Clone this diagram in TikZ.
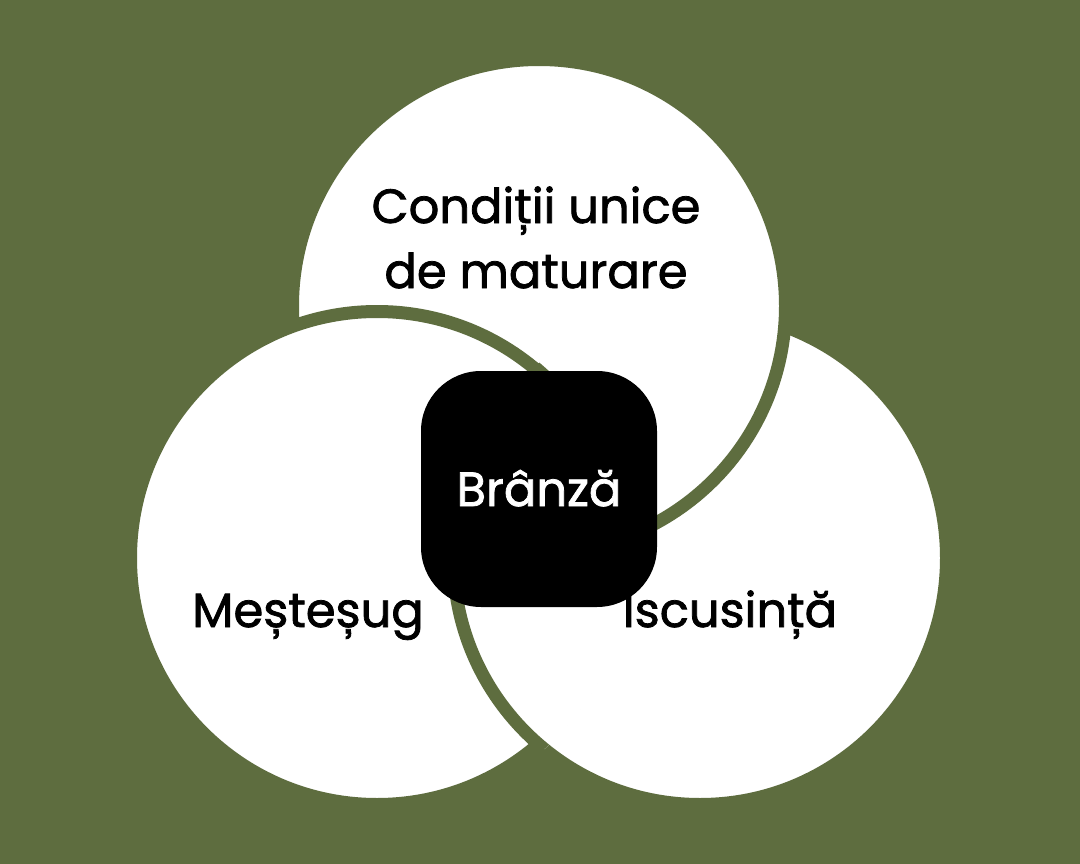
\documentclass[tikz,border=0pt]{standalone}
\usepackage{fontspec}
\setmainfont{Poppins}[FakeBold=1.6]
\definecolor{olive}{HTML}{5E6D3F}
\begin{document}
\begin{tikzpicture}[x=1pt,y=-1pt,
  circ/.style={circle, fill=white, draw=olive, line width=13pt, minimum size=493pt, inner sep=0pt, outer sep=0pt},
  circpath/.style={fill=white, draw=olive, line width=13pt},
  lbl/.style={font=\fontsize{48pt}{65pt}\selectfont, text=black, align=center, inner sep=0pt, anchor=base},
  core/.style={fill=black, rounded corners=60pt, minimum size=236pt, inner sep=0pt, text=white,
    font=\fontsize{48pt}{65pt}\selectfont, text height=34pt, text depth=0pt}]
\fill[olive] (0,0) rectangle (1080,864);
\useasboundingbox (0,0) rectangle (1080,864);
\node[circ] (right) at (700,558) {};
\node[circ] (top) at (539,306) {};
\node[circ] (left) at (377,558) {};
\begin{scope}
  \clip (left.center) circle[radius=254pt];
  \path[circpath] (right.center) circle[radius=246.5pt];
\end{scope}
\node[lbl] (ltop) at (536,288) {Condiții unice\\de maturare};
\node[lbl] (lleft) at (308,627) {Meșteșug};
\node[lbl] (lright) at (730,627) {Iscusință};
\node[core] (branza) at (539,489) {Brânză};
\end{tikzpicture}
\end{document}
